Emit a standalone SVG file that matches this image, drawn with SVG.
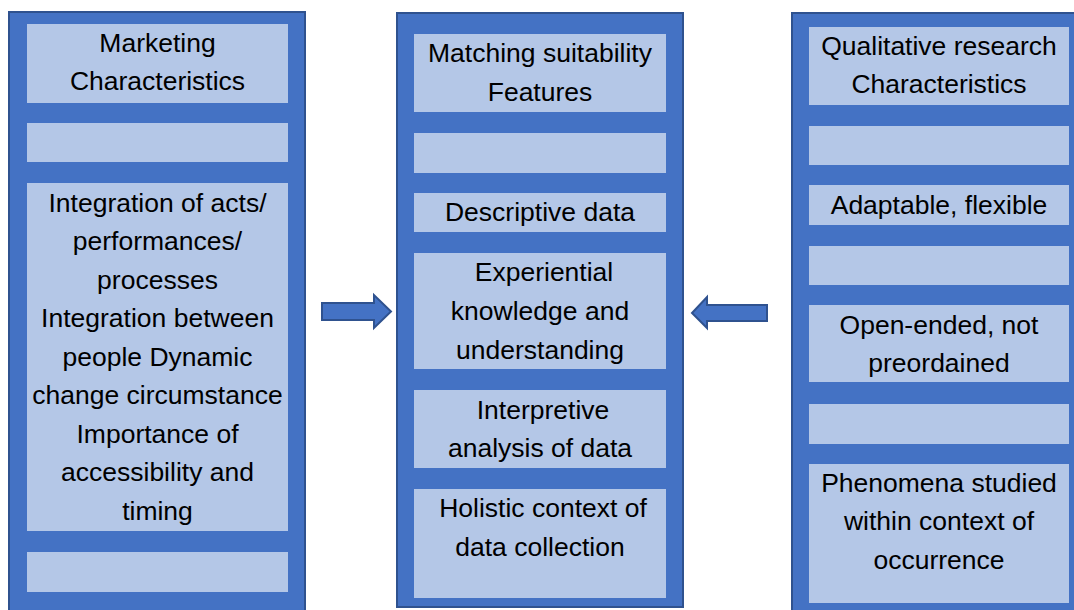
<svg xmlns="http://www.w3.org/2000/svg" width="1074" height="610" viewBox="0 0 1074 610">
<style>
.col{fill:#4472C4;stroke:#2F528F;stroke-width:2}
.box{fill:#B4C7E7}
.arr{fill:#4472C4;stroke:#2F528F;stroke-width:2}
text{font-family:"Liberation Sans",Arial,sans-serif;font-size:26.5px;fill:#000;text-anchor:middle}
</style>
<rect width="1074" height="610" fill="#fff"/>
<g id="col-marketing">
<rect class="col" x="9" y="12" width="296" height="602"/>
<rect class="box" x="27" y="24" width="261" height="79"/>
<text x="157.5" y="52">Marketing</text>
<text x="157.5" y="90">Characteristics</text>
<rect class="box" x="27" y="123" width="261" height="39"/>
<rect class="box" x="27" y="183" width="261" height="348"/>
<text x="157.5" y="212">Integration of acts/</text>
<text x="157.5" y="250">performances/</text>
<text x="157.5" y="289">processes</text>
<text x="157.5" y="327">Integration between</text>
<text x="157.5" y="366">people Dynamic</text>
<text x="157.5" y="404">change circumstance</text>
<text x="157.5" y="443">Importance of</text>
<text x="157.5" y="481">accessibility and</text>
<text x="157.5" y="520">timing</text>
<rect class="box" x="27" y="552" width="261" height="40"/>
</g>
<g id="col-matching">
<rect class="col" x="397" y="13" width="286" height="594"/>
<rect class="box" x="414" y="34" width="252" height="78"/>
<text x="540" y="62">Matching suitability</text>
<text x="540" y="101">Features</text>
<rect class="box" x="414" y="133" width="252" height="40"/>
<rect class="box" x="414" y="193" width="252" height="39"/>
<text x="540" y="221">Descriptive data</text>
<rect class="box" x="414" y="253" width="252" height="116"/>
<text x="544" y="281">Experiential</text>
<text x="540" y="320">knowledge and</text>
<text x="540" y="359">understanding</text>
<rect class="box" x="414" y="390" width="252" height="78"/>
<text x="543" y="419">Interpretive</text>
<text x="540" y="457">analysis of data</text>
<rect class="box" x="414" y="489" width="252" height="109"/>
<text x="543" y="517">Holistic context of</text>
<text x="540" y="556">data collection</text>
</g>
<g id="col-qualitative">
<rect class="col" x="792" y="13" width="290" height="602"/>
<rect class="box" x="809" y="27" width="260" height="78"/>
<text x="939" y="55">Qualitative research</text>
<text x="939" y="93">Characteristics</text>
<rect class="box" x="809" y="126" width="260" height="39"/>
<rect class="box" x="809" y="185" width="260" height="40"/>
<text x="939" y="214">Adaptable, flexible</text>
<rect class="box" x="809" y="246" width="260" height="39"/>
<rect class="box" x="809" y="305" width="260" height="77"/>
<text x="939" y="334">Open-ended, not</text>
<text x="939" y="372">preordained</text>
<rect class="box" x="809" y="404" width="260" height="40"/>
<rect class="box" x="809" y="464" width="260" height="139"/>
<text x="939" y="492">Phenomena studied</text>
<text x="939" y="530">within context of</text>
<text x="939" y="569">occurrence</text>
</g>
<g id="connectors">
<polygon class="arr" points="322,303 374,303 374,295 391,311.5 374,328 374,320 322,320"/>
<polygon class="arr" points="767,305 707,305 707,297 692,313 707,328 707,321 767,321"/>
</g>
</svg>
